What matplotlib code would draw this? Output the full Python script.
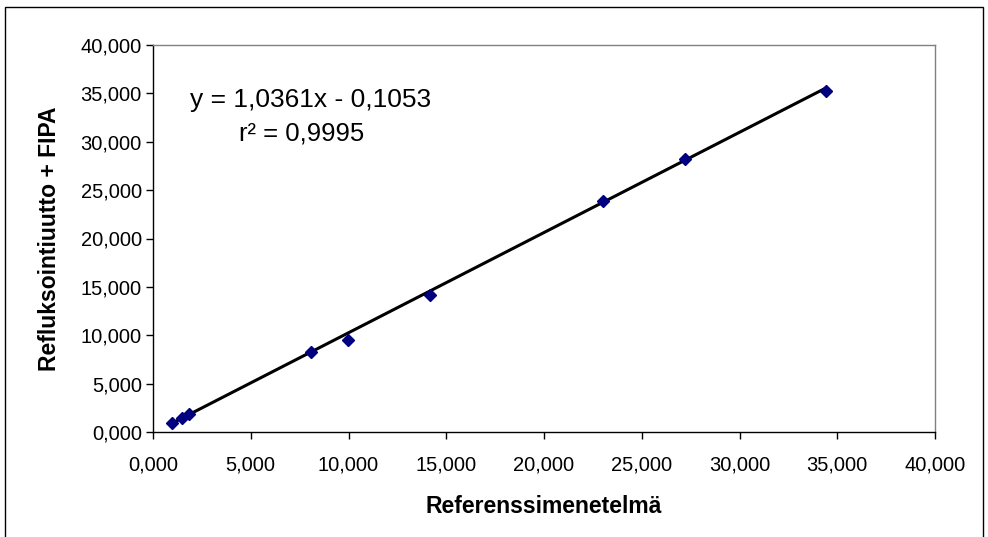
import numpy as np
import matplotlib.pyplot as plt
from matplotlib.patches import Rectangle
from matplotlib.ticker import FuncFormatter, MultipleLocator

plt.rcParams['font.family'] = ['Liberation Sans', 'DejaVu Sans']

# data
reference = [0.99, 1.49, 1.84, 8.08, 9.99, 14.17, 23.00, 27.20, 34.45]
reflux_fipa = [0.90, 1.42, 1.86, 8.30, 9.50, 14.15, 23.90, 28.20, 35.20]
slope = 1.0361
intercept = -0.1053
r2 = 0.9995


def fi_fmt(v, pos):
    return f"{v:.3f}".replace('.', ',')


fig = plt.figure(figsize=(9.88, 5.37), dpi=100, facecolor='w')
ax = fig.add_axes([153 / 988, 1 - 432 / 537, (935 - 153) / 988, (432 - 45) / 537])

# trend line over the data range
x_fit = np.array([min(reference), max(reference)])
ax.plot(x_fit, slope * x_fit + intercept, color='black', lw=2.2, zorder=2)
ax.plot(reference, reflux_fipa, linestyle='none', marker='D', markersize=6.5,
        color='#000080', zorder=3)

ax.set_xlim(0, 40)
ax.set_ylim(0, 40)
ax.xaxis.set_major_locator(MultipleLocator(5))
ax.yaxis.set_major_locator(MultipleLocator(5))
ax.xaxis.set_major_formatter(FuncFormatter(fi_fmt))
ax.yaxis.set_major_formatter(FuncFormatter(fi_fmt))
ax.tick_params(axis='both', direction='out', length=5, width=1, labelsize=14.5)
ax.tick_params(axis='x', pad=12)
ax.tick_params(axis='y', pad=3)

for side in ['top', 'right']:
    ax.spines[side].set_color('#808080')
    ax.spines[side].set_linewidth(1)
for side in ['left', 'bottom']:
    ax.spines[side].set_color('black')
    ax.spines[side].set_linewidth(1)

ax.set_xlabel('Referenssimenetelmä', fontsize=16.5, fontweight='bold', labelpad=15)
ax.set_ylabel('Refluksointiuutto + FIPA', fontsize=16.5, fontweight='bold', labelpad=14)

eq = f"y = {slope:.4f}x - {abs(intercept):.4f}".replace('.', ',')
ax.text(1.9, 34.3, eq, fontsize=19, ha='left', va='center')
ax.text(4.4, 30.9, f"r² = {r2:.4f}".replace('.', ','), fontsize=18.5, ha='left', va='center')

# outer chart border (bottom edge is outside the image)
fig.patches.append(Rectangle((5 / 988, -0.1), (983 - 5) / 988, 1.1 - 7 / 537,
                             transform=fig.transFigure, fill=False,
                             edgecolor='black', lw=1))

fig.savefig('out.png', dpi=100)
